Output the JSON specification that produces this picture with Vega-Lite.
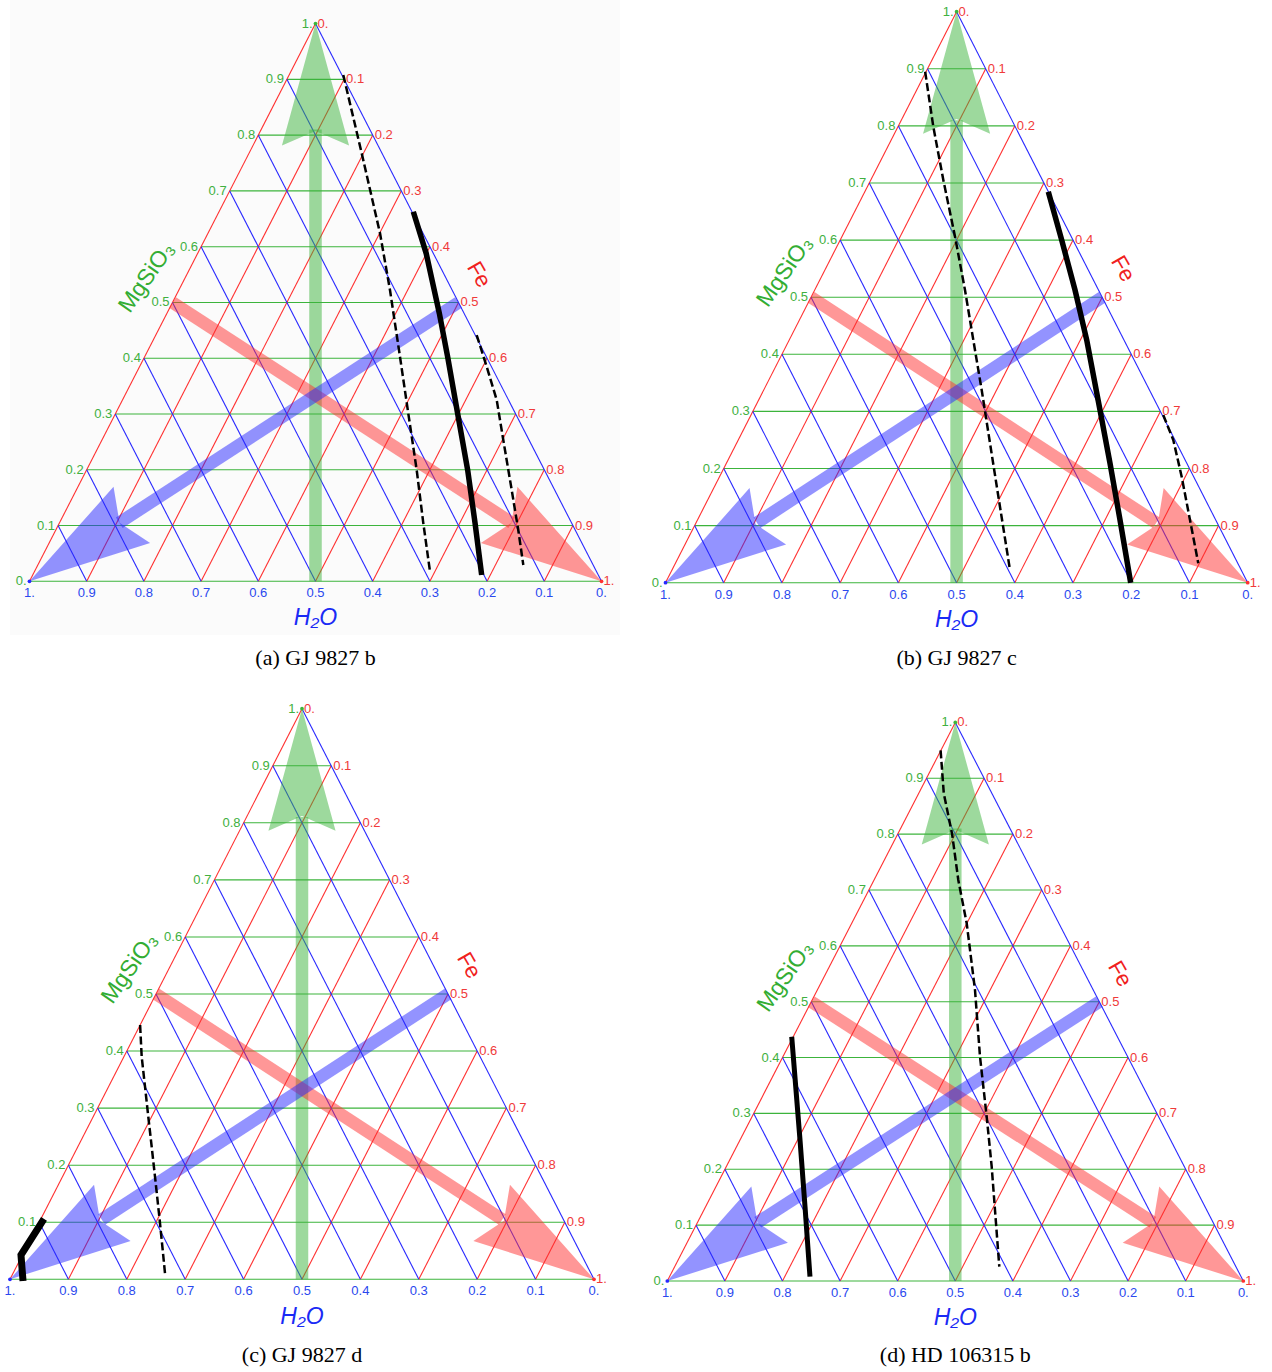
{
"$schema": "https://vega.github.io/schema/vega-lite/v6.json",
"padding": 0,
"background": "white",
"columns": 2,
"spacing": 0,
"bounds": "flush",
"config": {"view": {"stroke": null}},
"datasets": {
"grid": [
{"x":0,"y":0,"x2":1,"y2":0,"c":"MgSiO3"},
{"x":0.05,"y":0.1,"x2":0.95,"y2":0.1,"c":"MgSiO3"},
{"x":0.1,"y":0.2,"x2":0.9,"y2":0.2,"c":"MgSiO3"},
{"x":0.15,"y":0.3,"x2":0.85,"y2":0.3,"c":"MgSiO3"},
{"x":0.2,"y":0.4,"x2":0.8,"y2":0.4,"c":"MgSiO3"},
{"x":0.25,"y":0.5,"x2":0.75,"y2":0.5,"c":"MgSiO3"},
{"x":0.3,"y":0.6,"x2":0.7,"y2":0.6,"c":"MgSiO3"},
{"x":0.35,"y":0.7,"x2":0.65,"y2":0.7,"c":"MgSiO3"},
{"x":0.4,"y":0.8,"x2":0.6,"y2":0.8,"c":"MgSiO3"},
{"x":0.45,"y":0.9,"x2":0.55,"y2":0.9,"c":"MgSiO3"},
{"x":0,"y":0,"x2":0.5,"y2":1,"c":"Fe"},
{"x":0.1,"y":0,"x2":0.55,"y2":0.9,"c":"Fe"},
{"x":0.2,"y":0,"x2":0.6,"y2":0.8,"c":"Fe"},
{"x":0.3,"y":0,"x2":0.65,"y2":0.7,"c":"Fe"},
{"x":0.4,"y":0,"x2":0.7,"y2":0.6,"c":"Fe"},
{"x":0.5,"y":0,"x2":0.75,"y2":0.5,"c":"Fe"},
{"x":0.6,"y":0,"x2":0.8,"y2":0.4,"c":"Fe"},
{"x":0.7,"y":0,"x2":0.85,"y2":0.3,"c":"Fe"},
{"x":0.8,"y":0,"x2":0.9,"y2":0.2,"c":"Fe"},
{"x":0.9,"y":0,"x2":0.95,"y2":0.1,"c":"Fe"},
{"x":1,"y":0,"x2":0.5,"y2":1,"c":"H2O"},
{"x":0.9,"y":0,"x2":0.45,"y2":0.9,"c":"H2O"},
{"x":0.8,"y":0,"x2":0.4,"y2":0.8,"c":"H2O"},
{"x":0.7,"y":0,"x2":0.35,"y2":0.7,"c":"H2O"},
{"x":0.6,"y":0,"x2":0.3,"y2":0.6,"c":"H2O"},
{"x":0.5,"y":0,"x2":0.25,"y2":0.5,"c":"H2O"},
{"x":0.4,"y":0,"x2":0.2,"y2":0.4,"c":"H2O"},
{"x":0.3,"y":0,"x2":0.15,"y2":0.3,"c":"H2O"},
{"x":0.2,"y":0,"x2":0.1,"y2":0.2,"c":"H2O"},
{"x":0.1,"y":0,"x2":0.05,"y2":0.1,"c":"H2O"}
],
"shafts": [
{"x":0.5,"y":0,"x2":0.5,"y2":0.81,"c":"MgSiO3"},
{"x":0.25,"y":0.5,"x2":0.843,"y2":0.105,"c":"Fe"},
{"x":0.75,"y":0.5,"x2":0.157,"y2":0.105,"c":"H2O"}
],
"heads": [
{"x":0.5,"y":1,"c":"MgSiO3"},
{"x":1,"y":0,"c":"Fe"},
{"x":0,"y":0,"c":"H2O"}
],
"lbl": [
{"x":0,"y":0,"t":"0.","k":"m"},
{"x":0.05,"y":0.1,"t":"0.1","k":"m"},
{"x":0.1,"y":0.2,"t":"0.2","k":"m"},
{"x":0.15,"y":0.3,"t":"0.3","k":"m"},
{"x":0.2,"y":0.4,"t":"0.4","k":"m"},
{"x":0.25,"y":0.5,"t":"0.5","k":"m"},
{"x":0.3,"y":0.6,"t":"0.6","k":"m"},
{"x":0.35,"y":0.7,"t":"0.7","k":"m"},
{"x":0.4,"y":0.8,"t":"0.8","k":"m"},
{"x":0.45,"y":0.9,"t":"0.9","k":"m"},
{"x":0.5,"y":1,"t":"1.","k":"m"},
{"x":0.5,"y":1,"t":"0.","k":"f"},
{"x":0.55,"y":0.9,"t":"0.1","k":"f"},
{"x":0.6,"y":0.8,"t":"0.2","k":"f"},
{"x":0.65,"y":0.7,"t":"0.3","k":"f"},
{"x":0.7,"y":0.6,"t":"0.4","k":"f"},
{"x":0.75,"y":0.5,"t":"0.5","k":"f"},
{"x":0.8,"y":0.4,"t":"0.6","k":"f"},
{"x":0.85,"y":0.3,"t":"0.7","k":"f"},
{"x":0.9,"y":0.2,"t":"0.8","k":"f"},
{"x":0.95,"y":0.1,"t":"0.9","k":"f"},
{"x":1,"y":0,"t":"1.","k":"f"},
{"x":0,"y":0,"t":"1.","k":"w"},
{"x":0.1,"y":0,"t":"0.9","k":"w"},
{"x":0.2,"y":0,"t":"0.8","k":"w"},
{"x":0.3,"y":0,"t":"0.7","k":"w"},
{"x":0.4,"y":0,"t":"0.6","k":"w"},
{"x":0.5,"y":0,"t":"0.5","k":"w"},
{"x":0.6,"y":0,"t":"0.4","k":"w"},
{"x":0.7,"y":0,"t":"0.3","k":"w"},
{"x":0.8,"y":0,"t":"0.2","k":"w"},
{"x":0.9,"y":0,"t":"0.1","k":"w"},
{"x":1,"y":0,"t":"0.","k":"w"}
],
"ttl": [
{"k":"m","t":"MgSiO₃"},
{"k":"f","t":"Fe"},
{"k":"w","t":"H₂O"}
],
"cap": [
{"p":"a","t":"(a) GJ 9827 b"},
{"p":"b","t":"(b) GJ 9827 c"},
{"p":"c","t":"(c) GJ 9827 d"},
{"p":"d","t":"(d) HD 106315 b"}
],
"curves": [
{"p":"a","s":"a1","k":"dash","o":1,"x":0.5486,"y":0.9078},
{"p":"a","s":"a1","k":"dash","o":2,"x":0.5808,"y":0.7674},
{"p":"a","s":"a1","k":"dash","o":3,"x":0.6128,"y":0.6240},
{"p":"a","s":"a1","k":"dash","o":4,"x":0.6302,"y":0.5223},
{"p":"a","s":"a1","k":"dash","o":5,"x":0.6477,"y":0.4027},
{"p":"a","s":"a1","k":"dash","o":6,"x":0.6622,"y":0.3012},
{"p":"a","s":"a1","k":"dash","o":7,"x":0.6769,"y":0.1996},
{"p":"a","s":"a1","k":"dash","o":8,"x":0.6885,"y":0.1040},
{"p":"a","s":"a1","k":"dash","o":9,"x":0.7002,"y":0.0172},
{"p":"a","s":"a2","k":"solid","o":1,"x":0.6710,"y":0.6627},
{"p":"a","s":"a2","k":"solid","o":2,"x":0.6935,"y":0.5881},
{"p":"a","s":"a2","k":"solid","o":3,"x":0.7165,"y":0.4805},
{"p":"a","s":"a2","k":"solid","o":4,"x":0.7310,"y":0.4027},
{"p":"a","s":"a2","k":"solid","o":5,"x":0.7495,"y":0.2951},
{"p":"a","s":"a2","k":"solid","o":6,"x":0.7660,"y":0.1996},
{"p":"a","s":"a2","k":"solid","o":7,"x":0.7790,"y":0.1040},
{"p":"a","s":"a2","k":"solid","o":8,"x":0.7905,"y":0.0113},
{"p":"a","s":"a3","k":"dash","o":1,"x":0.7818,"y":0.4416},
{"p":"a","s":"a3","k":"dash","o":2,"x":0.7993,"y":0.3848},
{"p":"a","s":"a3","k":"dash","o":3,"x":0.8168,"y":0.3251},
{"p":"a","s":"a3","k":"dash","o":4,"x":0.8283,"y":0.2534},
{"p":"a","s":"a3","k":"dash","o":5,"x":0.8430,"y":0.1637},
{"p":"a","s":"a3","k":"dash","o":6,"x":0.8545,"y":0.0920},
{"p":"a","s":"a3","k":"dash","o":7,"x":0.8633,"y":0.0292},
{"p":"b","s":"b1","k":"dash","o":1,"x":0.4460,"y":0.8949},
{"p":"b","s":"b1","k":"dash","o":2,"x":0.4600,"y":0.7986},
{"p":"b","s":"b1","k":"dash","o":3,"x":0.4772,"y":0.7053},
{"p":"b","s":"b1","k":"dash","o":4,"x":0.4973,"y":0.6060},
{"p":"b","s":"b1","k":"dash","o":5,"x":0.5144,"y":0.5126},
{"p":"b","s":"b1","k":"dash","o":6,"x":0.5287,"y":0.4250},
{"p":"b","s":"b1","k":"dash","o":7,"x":0.5431,"y":0.3375},
{"p":"b","s":"b1","k":"dash","o":8,"x":0.5574,"y":0.2441},
{"p":"b","s":"b1","k":"dash","o":9,"x":0.5745,"y":0.1331},
{"p":"b","s":"b1","k":"dash","o":10,"x":0.5917,"y":0.0222},
{"p":"b","s":"b2","k":"solid","o":1,"x":0.6575,"y":0.6848},
{"p":"b","s":"b2","k":"solid","o":2,"x":0.6805,"y":0.6002},
{"p":"b","s":"b2","k":"solid","o":3,"x":0.7034,"y":0.5126},
{"p":"b","s":"b2","k":"solid","o":4,"x":0.7235,"y":0.4250},
{"p":"b","s":"b2","k":"solid","o":5,"x":0.7463,"y":0.3025},
{"p":"b","s":"b2","k":"solid","o":6,"x":0.7635,"y":0.2091},
{"p":"b","s":"b2","k":"solid","o":7,"x":0.7807,"y":0.1098},
{"p":"b","s":"b2","k":"solid","o":8,"x":0.7990,"y":0.0},
{"p":"b","s":"b3","k":"dash","o":1,"x":0.8550,"y":0.2937},
{"p":"b","s":"b3","k":"dash","o":2,"x":0.8722,"y":0.2499},
{"p":"b","s":"b3","k":"dash","o":3,"x":0.8866,"y":0.1856},
{"p":"b","s":"b3","k":"dash","o":4,"x":0.9009,"y":0.1098},
{"p":"b","s":"b3","k":"dash","o":5,"x":0.9151,"y":0.0340},
{"p":"c","s":"c1","k":"dash","o":1,"x":0.2228,"y":0.4457},
{"p":"c","s":"c1","k":"dash","o":2,"x":0.2255,"y":0.3901},
{"p":"c","s":"c1","k":"dash","o":3,"x":0.2312,"y":0.3375},
{"p":"c","s":"c1","k":"dash","o":4,"x":0.2368,"y":0.2850},
{"p":"c","s":"c1","k":"dash","o":5,"x":0.2426,"y":0.2324},
{"p":"c","s":"c1","k":"dash","o":6,"x":0.2483,"y":0.1798},
{"p":"c","s":"c1","k":"dash","o":7,"x":0.2557,"y":0.1097},
{"p":"c","s":"c1","k":"dash","o":8,"x":0.2615,"y":0.0513},
{"p":"c","s":"c1","k":"dash","o":9,"x":0.2654,"y":0.0105},
{"p":"c","s":"c2","k":"solid","o":1,"x":0.0582,"y":0.1057},
{"p":"c","s":"c2","k":"solid","o":2,"x":0.0188,"y":0.0426},
{"p":"c","s":"c2","k":"solid","o":3,"x":0.0223,"y":-0.003},
{"p":"d","s":"d1","k":"dash","o":1,"x":0.4745,"y":0.9500},
{"p":"d","s":"d1","k":"dash","o":2,"x":0.4800,"y":0.8731},
{"p":"d","s":"d1","k":"dash","o":3,"x":0.4945,"y":0.8000},
{"p":"d","s":"d1","k":"dash","o":4,"x":0.5052,"y":0.7179},
{"p":"d","s":"d1","k":"dash","o":5,"x":0.5198,"y":0.6404},
{"p":"d","s":"d1","k":"dash","o":6,"x":0.5342,"y":0.5209},
{"p":"d","s":"d1","k":"dash","o":7,"x":0.5429,"y":0.4015},
{"p":"d","s":"d1","k":"dash","o":8,"x":0.5545,"y":0.2941},
{"p":"d","s":"d1","k":"dash","o":9,"x":0.5632,"y":0.2046},
{"p":"d","s":"d1","k":"dash","o":10,"x":0.5689,"y":0.1271},
{"p":"d","s":"d1","k":"dash","o":11,"x":0.5764,"y":0.0256},
{"p":"d","s":"d2","k":"solid","o":1,"x":0.2160,"y":0.4373},
{"p":"d","s":"d2","k":"solid","o":2,"x":0.2304,"y":0.2524},
{"p":"d","s":"d2","k":"solid","o":3,"x":0.2391,"y":0.1330},
{"p":"d","s":"d2","k":"solid","o":4,"x":0.2477,"y":0.0077}
]
},
"concat": [
{
"width": 636, "height": 686,
"layer": [
{"data": {"values": [{}]}, "mark": {"type": "rect", "color": "#fbfbfb"}, "encoding": {"x": {"datum": -0.0341, "type": "quantitative", "axis": null}, "x2": {"datum": 1.0323}, "y": {"datum": 1.04232, "type": "quantitative", "axis": null}, "y2": {"datum": -0.0963}}},
{"data":{"name":"grid"},"mark":{"type":"rule","strokeWidth":1.1},"encoding":{"x":{"field":"x","type":"quantitative","scale":{"domain":[-0.05157,1.06031],"nice":false,"zero":false},"axis":null},"y":{"field":"y","type":"quantitative","scale":{"domain":[-0.18773,1.04232],"nice":false,"zero":false},"axis":null},"x2":{"field":"x2"},"y2":{"field":"y2"},"color":{"field":"c","type":"nominal","scale":{"domain":["MgSiO3","Fe","H2O"],"range":["#3cb43c","#ff3030","#2828ff"]},"legend":null}}},
{"data":{"name":"shafts"},"mark":{"type":"rule","strokeWidth":12.5,"opacity":0.5,"strokeCap":"butt"},"encoding":{"x":{"field":"x","type":"quantitative","axis":null},"y":{"field":"y","type":"quantitative","axis":null},"x2":{"field":"x2"},"y2":{"field":"y2"},"color":{"field":"c","type":"nominal","legend":null}}},
{"data":{"name":"heads"},"transform":[{"filter":"datum.c=='MgSiO3'"}],"mark":{"type":"point","shape":"M0,0L0.275,1L0,0.88L-0.275,1Z","size":59536,"filled":true,"opacity":0.5,"strokeWidth":0,"angle":0},"encoding":{"x":{"field":"x","type":"quantitative","axis":null},"y":{"field":"y","type":"quantitative","axis":null},"color":{"field":"c","type":"nominal","legend":null}}},
{"data":{"name":"heads"},"transform":[{"filter":"datum.c=='Fe'"}],"mark":{"type":"point","shape":"M0,0L0.275,1L0,0.88L-0.275,1Z","size":59536,"filled":true,"opacity":0.5,"strokeWidth":0,"angle":123},"encoding":{"x":{"field":"x","type":"quantitative","axis":null},"y":{"field":"y","type":"quantitative","axis":null},"color":{"field":"c","type":"nominal","legend":null}}},
{"data":{"name":"heads"},"transform":[{"filter":"datum.c=='H2O'"}],"mark":{"type":"point","shape":"M0,0L0.275,1L0,0.88L-0.275,1Z","size":59536,"filled":true,"opacity":0.5,"strokeWidth":0,"angle":237},"encoding":{"x":{"field":"x","type":"quantitative","axis":null},"y":{"field":"y","type":"quantitative","axis":null},"color":{"field":"c","type":"nominal","legend":null}}},
{"data":{"name":"curves"},"transform":[{"filter":"datum.p=='a' && datum.k=='solid'"}],"mark":{"type":"line","color":"#000000","strokeWidth":5.5},"encoding":{"x":{"field":"x","type":"quantitative","axis":null},"y":{"field":"y","type":"quantitative","axis":null},"detail":{"field":"s","type":"nominal"},"order":{"field":"o","type":"quantitative"}}},
{"data":{"name":"curves"},"transform":[{"filter":"datum.p=='a' && datum.k=='dash'"}],"mark":{"type":"line","color":"#000000","strokeWidth":2.5,"strokeDash":[8,3.5]},"encoding":{"x":{"field":"x","type":"quantitative","axis":null},"y":{"field":"y","type":"quantitative","axis":null},"detail":{"field":"s","type":"nominal"},"order":{"field":"o","type":"quantitative"}}},
{"data":{"name":"heads"},"mark":{"type":"point","filled":true,"size":14,"opacity":1},"encoding":{"x":{"field":"x","type":"quantitative","axis":null},"y":{"field":"y","type":"quantitative","axis":null},"color":{"field":"c","type":"nominal","legend":null}}},
{"data":{"name":"lbl"},"transform":[{"filter":"datum.k=='m'"}],"mark":{"type":"text","align":"right","baseline":"middle","dx":-3,"font":"Liberation Sans","fontSize":13,"color":"#40b040"},"encoding":{"x":{"field":"x","type":"quantitative","axis":null},"y":{"field":"y","type":"quantitative","axis":null},"text":{"field":"t","type":"nominal"}}},
{"data":{"name":"lbl"},"transform":[{"filter":"datum.k=='f'"}],"mark":{"type":"text","align":"left","baseline":"middle","dx":2,"font":"Liberation Sans","fontSize":13,"color":"#f03a3a"},"encoding":{"x":{"field":"x","type":"quantitative","axis":null},"y":{"field":"y","type":"quantitative","axis":null},"text":{"field":"t","type":"nominal"}}},
{"data":{"name":"lbl"},"transform":[{"filter":"datum.k=='w'"}],"mark":{"type":"text","align":"center","baseline":"middle","dy":12,"font":"Liberation Sans","fontSize":13,"color":"#2a48ee"},"encoding":{"x":{"field":"x","type":"quantitative","axis":null},"y":{"field":"y","type":"quantitative","axis":null},"text":{"field":"t","type":"nominal"}}},
{"data":{"name":"ttl"},"transform":[{"filter":"datum.k=='m'"}],"mark":{"type":"text","align":"center","baseline":"middle","angle":305,"font":"Liberation Sans, DejaVu Sans","fontSize":23,"color":"#33ad33"},"encoding":{"x":{"datum":0.205,"type":"quantitative","axis":null},"y":{"datum":0.545,"type":"quantitative","axis":null},"text":{"field":"t","type":"nominal"}}},
{"data":{"name":"ttl"},"transform":[{"filter":"datum.k=='f'"}],"mark":{"type":"text","align":"center","baseline":"middle","angle":60,"font":"Liberation Sans","fontSize":22,"color":"#f02020"},"encoding":{"x":{"datum":0.786,"type":"quantitative","axis":null},"y":{"datum":0.55,"type":"quantitative","axis":null},"text":{"field":"t","type":"nominal"}}},
{"data":{"name":"ttl"},"transform":[{"filter":"datum.k=='w'"}],"mark":{"type":"text","align":"center","baseline":"middle","font":"Liberation Sans, DejaVu Sans","fontSize":23,"fontStyle":"italic","color":"#1a2af5"},"encoding":{"x":{"datum":0.5,"type":"quantitative","axis":null},"y":{"datum":-0.066,"type":"quantitative","axis":null},"text":{"field":"t","type":"nominal"}}},
{"data":{"name":"cap"},"transform":[{"filter":"datum.p=='a'"}],"mark":{"type":"text","align":"center","baseline":"middle","font":"Liberation Serif","fontSize":22,"color":"#000000"},"encoding":{"x":{"datum":0.5,"type":"quantitative","axis":null},"y":{"datum":-0.1375,"type":"quantitative","axis":null},"text":{"field":"t","type":"nominal"}}}
]
},
{
"width": 636, "height": 686,
"layer": [
{"data":{"name":"grid"},"mark":{"type":"rule","strokeWidth":1.1},"encoding":{"x":{"field":"x","type":"quantitative","scale":{"domain":[-0.05067,1.04174],"nice":false,"zero":false},"axis":null},"y":{"field":"y","type":"quantitative","scale":{"domain":[-0.18091,1.02049],"nice":false,"zero":false},"axis":null},"x2":{"field":"x2"},"y2":{"field":"y2"},"color":{"field":"c","type":"nominal","scale":{"domain":["MgSiO3","Fe","H2O"],"range":["#3cb43c","#ff3030","#2828ff"]},"legend":null}}},
{"data":{"name":"shafts"},"mark":{"type":"rule","strokeWidth":12.5,"opacity":0.5,"strokeCap":"butt"},"encoding":{"x":{"field":"x","type":"quantitative","axis":null},"y":{"field":"y","type":"quantitative","axis":null},"x2":{"field":"x2"},"y2":{"field":"y2"},"color":{"field":"c","type":"nominal","legend":null}}},
{"data":{"name":"heads"},"transform":[{"filter":"datum.c=='MgSiO3'"}],"mark":{"type":"point","shape":"M0,0L0.275,1L0,0.88L-0.275,1Z","size":59536,"filled":true,"opacity":0.5,"strokeWidth":0,"angle":0},"encoding":{"x":{"field":"x","type":"quantitative","axis":null},"y":{"field":"y","type":"quantitative","axis":null},"color":{"field":"c","type":"nominal","legend":null}}},
{"data":{"name":"heads"},"transform":[{"filter":"datum.c=='Fe'"}],"mark":{"type":"point","shape":"M0,0L0.275,1L0,0.88L-0.275,1Z","size":59536,"filled":true,"opacity":0.5,"strokeWidth":0,"angle":123},"encoding":{"x":{"field":"x","type":"quantitative","axis":null},"y":{"field":"y","type":"quantitative","axis":null},"color":{"field":"c","type":"nominal","legend":null}}},
{"data":{"name":"heads"},"transform":[{"filter":"datum.c=='H2O'"}],"mark":{"type":"point","shape":"M0,0L0.275,1L0,0.88L-0.275,1Z","size":59536,"filled":true,"opacity":0.5,"strokeWidth":0,"angle":237},"encoding":{"x":{"field":"x","type":"quantitative","axis":null},"y":{"field":"y","type":"quantitative","axis":null},"color":{"field":"c","type":"nominal","legend":null}}},
{"data":{"name":"curves"},"transform":[{"filter":"datum.p=='b' && datum.k=='solid'"}],"mark":{"type":"line","color":"#000000","strokeWidth":5.5},"encoding":{"x":{"field":"x","type":"quantitative","axis":null},"y":{"field":"y","type":"quantitative","axis":null},"detail":{"field":"s","type":"nominal"},"order":{"field":"o","type":"quantitative"}}},
{"data":{"name":"curves"},"transform":[{"filter":"datum.p=='b' && datum.k=='dash'"}],"mark":{"type":"line","color":"#000000","strokeWidth":2.5,"strokeDash":[8,3.5]},"encoding":{"x":{"field":"x","type":"quantitative","axis":null},"y":{"field":"y","type":"quantitative","axis":null},"detail":{"field":"s","type":"nominal"},"order":{"field":"o","type":"quantitative"}}},
{"data":{"name":"heads"},"mark":{"type":"point","filled":true,"size":14,"opacity":1},"encoding":{"x":{"field":"x","type":"quantitative","axis":null},"y":{"field":"y","type":"quantitative","axis":null},"color":{"field":"c","type":"nominal","legend":null}}},
{"data":{"name":"lbl"},"transform":[{"filter":"datum.k=='m'"}],"mark":{"type":"text","align":"right","baseline":"middle","dx":-3,"font":"Liberation Sans","fontSize":13,"color":"#40b040"},"encoding":{"x":{"field":"x","type":"quantitative","axis":null},"y":{"field":"y","type":"quantitative","axis":null},"text":{"field":"t","type":"nominal"}}},
{"data":{"name":"lbl"},"transform":[{"filter":"datum.k=='f'"}],"mark":{"type":"text","align":"left","baseline":"middle","dx":2,"font":"Liberation Sans","fontSize":13,"color":"#f03a3a"},"encoding":{"x":{"field":"x","type":"quantitative","axis":null},"y":{"field":"y","type":"quantitative","axis":null},"text":{"field":"t","type":"nominal"}}},
{"data":{"name":"lbl"},"transform":[{"filter":"datum.k=='w'"}],"mark":{"type":"text","align":"center","baseline":"middle","dy":12,"font":"Liberation Sans","fontSize":13,"color":"#2a48ee"},"encoding":{"x":{"field":"x","type":"quantitative","axis":null},"y":{"field":"y","type":"quantitative","axis":null},"text":{"field":"t","type":"nominal"}}},
{"data":{"name":"ttl"},"transform":[{"filter":"datum.k=='m'"}],"mark":{"type":"text","align":"center","baseline":"middle","angle":305,"font":"Liberation Sans, DejaVu Sans","fontSize":23,"color":"#33ad33"},"encoding":{"x":{"datum":0.205,"type":"quantitative","axis":null},"y":{"datum":0.545,"type":"quantitative","axis":null},"text":{"field":"t","type":"nominal"}}},
{"data":{"name":"ttl"},"transform":[{"filter":"datum.k=='f'"}],"mark":{"type":"text","align":"center","baseline":"middle","angle":60,"font":"Liberation Sans","fontSize":22,"color":"#f02020"},"encoding":{"x":{"datum":0.786,"type":"quantitative","axis":null},"y":{"datum":0.55,"type":"quantitative","axis":null},"text":{"field":"t","type":"nominal"}}},
{"data":{"name":"ttl"},"transform":[{"filter":"datum.k=='w'"}],"mark":{"type":"text","align":"center","baseline":"middle","font":"Liberation Sans, DejaVu Sans","fontSize":23,"fontStyle":"italic","color":"#1a2af5"},"encoding":{"x":{"datum":0.5,"type":"quantitative","axis":null},"y":{"datum":-0.066,"type":"quantitative","axis":null},"text":{"field":"t","type":"nominal"}}},
{"data":{"name":"cap"},"transform":[{"filter":"datum.p=='b'"}],"mark":{"type":"text","align":"center","baseline":"middle","font":"Liberation Serif","fontSize":22,"color":"#000000"},"encoding":{"x":{"datum":0.5,"type":"quantitative","axis":null},"y":{"datum":-0.1319,"type":"quantitative","axis":null},"text":{"field":"t","type":"nominal"}}}
]
},
{
"width": 636, "height": 686,
"layer": [
{"data":{"name":"grid"},"mark":{"type":"rule","strokeWidth":1.1},"encoding":{"x":{"field":"x","type":"quantitative","scale":{"domain":[-0.01712,1.07192],"nice":false,"zero":false},"axis":null},"y":{"field":"y","type":"quantitative","scale":{"domain":[-0.16246,1.03978],"nice":false,"zero":false},"axis":null},"x2":{"field":"x2"},"y2":{"field":"y2"},"color":{"field":"c","type":"nominal","scale":{"domain":["MgSiO3","Fe","H2O"],"range":["#3cb43c","#ff3030","#2828ff"]},"legend":null}}},
{"data":{"name":"shafts"},"mark":{"type":"rule","strokeWidth":12.5,"opacity":0.5,"strokeCap":"butt"},"encoding":{"x":{"field":"x","type":"quantitative","axis":null},"y":{"field":"y","type":"quantitative","axis":null},"x2":{"field":"x2"},"y2":{"field":"y2"},"color":{"field":"c","type":"nominal","legend":null}}},
{"data":{"name":"heads"},"transform":[{"filter":"datum.c=='MgSiO3'"}],"mark":{"type":"point","shape":"M0,0L0.275,1L0,0.88L-0.275,1Z","size":59536,"filled":true,"opacity":0.5,"strokeWidth":0,"angle":0},"encoding":{"x":{"field":"x","type":"quantitative","axis":null},"y":{"field":"y","type":"quantitative","axis":null},"color":{"field":"c","type":"nominal","legend":null}}},
{"data":{"name":"heads"},"transform":[{"filter":"datum.c=='Fe'"}],"mark":{"type":"point","shape":"M0,0L0.275,1L0,0.88L-0.275,1Z","size":59536,"filled":true,"opacity":0.5,"strokeWidth":0,"angle":123},"encoding":{"x":{"field":"x","type":"quantitative","axis":null},"y":{"field":"y","type":"quantitative","axis":null},"color":{"field":"c","type":"nominal","legend":null}}},
{"data":{"name":"heads"},"transform":[{"filter":"datum.c=='H2O'"}],"mark":{"type":"point","shape":"M0,0L0.275,1L0,0.88L-0.275,1Z","size":59536,"filled":true,"opacity":0.5,"strokeWidth":0,"angle":237},"encoding":{"x":{"field":"x","type":"quantitative","axis":null},"y":{"field":"y","type":"quantitative","axis":null},"color":{"field":"c","type":"nominal","legend":null}}},
{"data":{"name":"curves"},"transform":[{"filter":"datum.p=='c' && datum.k=='solid'"}],"mark":{"type":"line","color":"#000000","strokeWidth":7},"encoding":{"x":{"field":"x","type":"quantitative","axis":null},"y":{"field":"y","type":"quantitative","axis":null},"detail":{"field":"s","type":"nominal"},"order":{"field":"o","type":"quantitative"}}},
{"data":{"name":"curves"},"transform":[{"filter":"datum.p=='c' && datum.k=='dash'"}],"mark":{"type":"line","color":"#000000","strokeWidth":2.5,"strokeDash":[8,3.5]},"encoding":{"x":{"field":"x","type":"quantitative","axis":null},"y":{"field":"y","type":"quantitative","axis":null},"detail":{"field":"s","type":"nominal"},"order":{"field":"o","type":"quantitative"}}},
{"data":{"name":"heads"},"mark":{"type":"point","filled":true,"size":14,"opacity":1},"encoding":{"x":{"field":"x","type":"quantitative","axis":null},"y":{"field":"y","type":"quantitative","axis":null},"color":{"field":"c","type":"nominal","legend":null}}},
{"data":{"name":"lbl"},"transform":[{"filter":"datum.k=='m' && datum.y>0"}],"mark":{"type":"text","align":"right","baseline":"middle","dx":-3,"font":"Liberation Sans","fontSize":13,"color":"#40b040"},"encoding":{"x":{"field":"x","type":"quantitative","axis":null},"y":{"field":"y","type":"quantitative","axis":null},"text":{"field":"t","type":"nominal"}}},
{"data":{"name":"lbl"},"transform":[{"filter":"datum.k=='f'"}],"mark":{"type":"text","align":"left","baseline":"middle","dx":2,"font":"Liberation Sans","fontSize":13,"color":"#f03a3a"},"encoding":{"x":{"field":"x","type":"quantitative","axis":null},"y":{"field":"y","type":"quantitative","axis":null},"text":{"field":"t","type":"nominal"}}},
{"data":{"name":"lbl"},"transform":[{"filter":"datum.k=='w'"}],"mark":{"type":"text","align":"center","baseline":"middle","dy":12,"font":"Liberation Sans","fontSize":13,"color":"#2a48ee"},"encoding":{"x":{"field":"x","type":"quantitative","axis":null},"y":{"field":"y","type":"quantitative","axis":null},"text":{"field":"t","type":"nominal"}}},
{"data":{"name":"ttl"},"transform":[{"filter":"datum.k=='m'"}],"mark":{"type":"text","align":"center","baseline":"middle","angle":305,"font":"Liberation Sans, DejaVu Sans","fontSize":23,"color":"#33ad33"},"encoding":{"x":{"datum":0.205,"type":"quantitative","axis":null},"y":{"datum":0.545,"type":"quantitative","axis":null},"text":{"field":"t","type":"nominal"}}},
{"data":{"name":"ttl"},"transform":[{"filter":"datum.k=='f'"}],"mark":{"type":"text","align":"center","baseline":"middle","angle":60,"font":"Liberation Sans","fontSize":22,"color":"#f02020"},"encoding":{"x":{"datum":0.786,"type":"quantitative","axis":null},"y":{"datum":0.55,"type":"quantitative","axis":null},"text":{"field":"t","type":"nominal"}}},
{"data":{"name":"ttl"},"transform":[{"filter":"datum.k=='w'"}],"mark":{"type":"text","align":"center","baseline":"middle","font":"Liberation Sans, DejaVu Sans","fontSize":23,"fontStyle":"italic","color":"#1a2af5"},"encoding":{"x":{"datum":0.5,"type":"quantitative","axis":null},"y":{"datum":-0.066,"type":"quantitative","axis":null},"text":{"field":"t","type":"nominal"}}},
{"data":{"name":"cap"},"transform":[{"filter":"datum.p=='c'"}],"mark":{"type":"text","align":"center","baseline":"middle","font":"Liberation Serif","fontSize":22,"color":"#000000"},"encoding":{"x":{"datum":0.5,"type":"quantitative","axis":null},"y":{"datum":-0.1327,"type":"quantitative","axis":null},"text":{"field":"t","type":"nominal"}}}
]
},
{
"width": 636, "height": 686,
"layer": [
{"data":{"name":"grid"},"mark":{"type":"rule","strokeWidth":1.1},"encoding":{"x":{"field":"x","type":"quantitative","scale":{"domain":[-0.05434,1.04983],"nice":false,"zero":false},"axis":null},"y":{"field":"y","type":"quantitative","scale":{"domain":[-0.16291,1.06516],"nice":false,"zero":false},"axis":null},"x2":{"field":"x2"},"y2":{"field":"y2"},"color":{"field":"c","type":"nominal","scale":{"domain":["MgSiO3","Fe","H2O"],"range":["#3cb43c","#ff3030","#2828ff"]},"legend":null}}},
{"data":{"name":"shafts"},"mark":{"type":"rule","strokeWidth":12.5,"opacity":0.5,"strokeCap":"butt"},"encoding":{"x":{"field":"x","type":"quantitative","axis":null},"y":{"field":"y","type":"quantitative","axis":null},"x2":{"field":"x2"},"y2":{"field":"y2"},"color":{"field":"c","type":"nominal","legend":null}}},
{"data":{"name":"heads"},"transform":[{"filter":"datum.c=='MgSiO3'"}],"mark":{"type":"point","shape":"M0,0L0.275,1L0,0.88L-0.275,1Z","size":59536,"filled":true,"opacity":0.5,"strokeWidth":0,"angle":0},"encoding":{"x":{"field":"x","type":"quantitative","axis":null},"y":{"field":"y","type":"quantitative","axis":null},"color":{"field":"c","type":"nominal","legend":null}}},
{"data":{"name":"heads"},"transform":[{"filter":"datum.c=='Fe'"}],"mark":{"type":"point","shape":"M0,0L0.275,1L0,0.88L-0.275,1Z","size":59536,"filled":true,"opacity":0.5,"strokeWidth":0,"angle":123},"encoding":{"x":{"field":"x","type":"quantitative","axis":null},"y":{"field":"y","type":"quantitative","axis":null},"color":{"field":"c","type":"nominal","legend":null}}},
{"data":{"name":"heads"},"transform":[{"filter":"datum.c=='H2O'"}],"mark":{"type":"point","shape":"M0,0L0.275,1L0,0.88L-0.275,1Z","size":59536,"filled":true,"opacity":0.5,"strokeWidth":0,"angle":237},"encoding":{"x":{"field":"x","type":"quantitative","axis":null},"y":{"field":"y","type":"quantitative","axis":null},"color":{"field":"c","type":"nominal","legend":null}}},
{"data":{"name":"curves"},"transform":[{"filter":"datum.p=='d' && datum.k=='solid'"}],"mark":{"type":"line","color":"#000000","strokeWidth":5},"encoding":{"x":{"field":"x","type":"quantitative","axis":null},"y":{"field":"y","type":"quantitative","axis":null},"detail":{"field":"s","type":"nominal"},"order":{"field":"o","type":"quantitative"}}},
{"data":{"name":"curves"},"transform":[{"filter":"datum.p=='d' && datum.k=='dash'"}],"mark":{"type":"line","color":"#000000","strokeWidth":2.5,"strokeDash":[8,3.5]},"encoding":{"x":{"field":"x","type":"quantitative","axis":null},"y":{"field":"y","type":"quantitative","axis":null},"detail":{"field":"s","type":"nominal"},"order":{"field":"o","type":"quantitative"}}},
{"data":{"name":"heads"},"mark":{"type":"point","filled":true,"size":14,"opacity":1},"encoding":{"x":{"field":"x","type":"quantitative","axis":null},"y":{"field":"y","type":"quantitative","axis":null},"color":{"field":"c","type":"nominal","legend":null}}},
{"data":{"name":"lbl"},"transform":[{"filter":"datum.k=='m'"}],"mark":{"type":"text","align":"right","baseline":"middle","dx":-3,"font":"Liberation Sans","fontSize":13,"color":"#40b040"},"encoding":{"x":{"field":"x","type":"quantitative","axis":null},"y":{"field":"y","type":"quantitative","axis":null},"text":{"field":"t","type":"nominal"}}},
{"data":{"name":"lbl"},"transform":[{"filter":"datum.k=='f'"}],"mark":{"type":"text","align":"left","baseline":"middle","dx":2,"font":"Liberation Sans","fontSize":13,"color":"#f03a3a"},"encoding":{"x":{"field":"x","type":"quantitative","axis":null},"y":{"field":"y","type":"quantitative","axis":null},"text":{"field":"t","type":"nominal"}}},
{"data":{"name":"lbl"},"transform":[{"filter":"datum.k=='w'"}],"mark":{"type":"text","align":"center","baseline":"middle","dy":12,"font":"Liberation Sans","fontSize":13,"color":"#2a48ee"},"encoding":{"x":{"field":"x","type":"quantitative","axis":null},"y":{"field":"y","type":"quantitative","axis":null},"text":{"field":"t","type":"nominal"}}},
{"data":{"name":"ttl"},"transform":[{"filter":"datum.k=='m'"}],"mark":{"type":"text","align":"center","baseline":"middle","angle":305,"font":"Liberation Sans, DejaVu Sans","fontSize":23,"color":"#33ad33"},"encoding":{"x":{"datum":0.205,"type":"quantitative","axis":null},"y":{"datum":0.545,"type":"quantitative","axis":null},"text":{"field":"t","type":"nominal"}}},
{"data":{"name":"ttl"},"transform":[{"filter":"datum.k=='f'"}],"mark":{"type":"text","align":"center","baseline":"middle","angle":60,"font":"Liberation Sans","fontSize":22,"color":"#f02020"},"encoding":{"x":{"datum":0.786,"type":"quantitative","axis":null},"y":{"datum":0.55,"type":"quantitative","axis":null},"text":{"field":"t","type":"nominal"}}},
{"data":{"name":"ttl"},"transform":[{"filter":"datum.k=='w'"}],"mark":{"type":"text","align":"center","baseline":"middle","font":"Liberation Sans, DejaVu Sans","fontSize":23,"fontStyle":"italic","color":"#1a2af5"},"encoding":{"x":{"datum":0.5,"type":"quantitative","axis":null},"y":{"datum":-0.066,"type":"quantitative","axis":null},"text":{"field":"t","type":"nominal"}}},
{"data":{"name":"cap"},"transform":[{"filter":"datum.p=='d'"}],"mark":{"type":"text","align":"center","baseline":"middle","font":"Liberation Serif","fontSize":22,"color":"#000000"},"encoding":{"x":{"datum":0.5,"type":"quantitative","axis":null},"y":{"datum":-0.1325,"type":"quantitative","axis":null},"text":{"field":"t","type":"nominal"}}}
]
}
]
}
